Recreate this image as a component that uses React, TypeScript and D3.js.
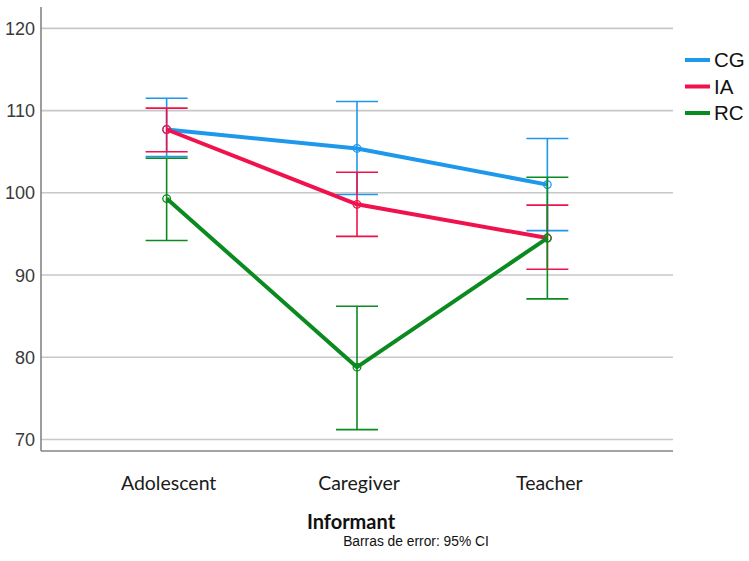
import React from "react";
import * as d3 from "d3";

// Informant categories on the x axis
const categories = ["Adolescent", "Caregiver", "Teacher"];

// Group labels
const groups = ["CG", "IA", "RC"];

// Means with 95% CI bounds per group, by informant
const cgMean = [107.7, 105.4, 101.0];
const cgLow = [104.4, 99.8, 95.4];
const cgHigh = [111.5, 111.1, 106.6];

const iaMean = [107.7, 98.6, 94.5];
const iaLow = [105.0, 94.7, 90.7];
const iaHigh = [110.3, 102.5, 98.5];

const rcMean = [99.3, 78.8, 94.5];
const rcLow = [94.2, 71.2, 87.1];
const rcHigh = [104.2, 86.2, 101.9];

const yTicks = [70, 80, 90, 100, 110, 120];

const colors: Record<string, string> = {
  CG: "#1e98ea",
  IA: "#f0124c",
  RC: "#0a8a1f",
};

const series = [
  { name: "CG", mean: cgMean, low: cgLow, high: cgHigh },
  { name: "IA", mean: iaMean, low: iaLow, high: iaHigh },
  { name: "RC", mean: rcMean, low: rcLow, high: rcHigh },
];

const W = 749;
const H = 561;
const left = 41;
const right = 673;
const top = 7;
const bottom = 451;

export default function App() {
  const x = d3.scalePoint<string>().domain(categories).range([left, right]).padding(0.66);
  const y = d3.scaleLinear().domain([68.6, 122.6]).range([bottom, top]);

  const line = d3
    .line<number>()
    .x((_, i) => x(categories[i]) as number)
    .y((d) => y(d));

  const cap = 21;

  return (
    <div style={{ position: "absolute", left: 0, top: 0 }}>
      <svg width={W} height={H} style={{ display: "block", background: "#fff" }}>
        {/* gridlines */}
        {yTicks.map((t) => (
          <line key={t} x1={left} x2={right} y1={y(t)} y2={y(t)} stroke="#c8c8c8" strokeWidth={1.6} />
        ))}
        {/* axes */}
        <line x1={left} x2={left} y1={top} y2={bottom} stroke="#858585" strokeWidth={1.6} />
        <line x1={left} x2={right} y1={bottom} y2={bottom} stroke="#858585" strokeWidth={1.6} />
        {/* y tick labels */}
        {yTicks.map((t) => (
          <text
            key={t}
            x={35}
            y={y(t)}
            dy="0.36em"
            textAnchor="end"
            fontFamily="'Liberation Sans', Arial, sans-serif"
            fontSize={18}
            fill="#3a3a3a"
          >
            {t}
          </text>
        ))}
        {/* x category labels */}
        {categories.map((c) => (
          <text
            key={c}
            x={(x(c) as number) + 2}
            y={490}
            textAnchor="middle"
            fontFamily="Lato, 'Open Sans', sans-serif"
            fontSize={19.5}
            fill="#1a1a1a"
          >
            {c}
          </text>
        ))}
        <text
          x={351}
          y={529}
          textAnchor="middle"
          fontFamily="Lato, 'Open Sans', sans-serif"
          fontWeight="bold"
          fontSize={20}
          fill="#111"
        >
          Informant
        </text>
        <text
          x={416}
          y={546}
          textAnchor="middle"
          fontFamily="'Liberation Sans', Arial, sans-serif"
          fontSize={13.8}
          fill="#111"
        >
          Barras de error: 95% CI
        </text>

        {/* series: error bars, mean lines, markers */}
        {series.map((s) => {
          const col = colors[s.name];
          return (
            <g key={s.name}>
              {categories.map((c, i) => {
                const cx = x(c) as number;
                return (
                  <g key={c} stroke={col} strokeWidth={1.6}>
                    <line x1={cx} x2={cx} y1={y(s.low[i])} y2={y(s.high[i])} />
                    <line x1={cx - cap} x2={cx + cap} y1={y(s.low[i])} y2={y(s.low[i])} />
                    <line x1={cx - cap} x2={cx + cap} y1={y(s.high[i])} y2={y(s.high[i])} />
                  </g>
                );
              })}
              <path d={line(s.mean) || ""} fill="none" stroke={col} strokeWidth={4} strokeLinejoin="round" />
              {categories.map((c, i) => (
                <circle
                  key={c}
                  cx={x(c) as number}
                  cy={y(s.mean[i])}
                  r={3.8}
                  fill="none"
                  stroke={col}
                  strokeWidth={1.3}
                />
              ))}
            </g>
          );
        })}

        {/* legend */}
        {groups.map((g, i) => {
          const ly = 60 + i * 26.5;
          return (
            <g key={g}>
              <line x1={685} x2={710} y1={ly} y2={ly} stroke={colors[g]} strokeWidth={4} />
              <text
                x={714}
                y={ly}
                dy="0.36em"
                fontFamily="'Liberation Sans', Arial, sans-serif"
                fontSize={20.5}
                fill="#111"
              >
                {g}
              </text>
            </g>
          );
        })}
      </svg>
    </div>
  );
}
